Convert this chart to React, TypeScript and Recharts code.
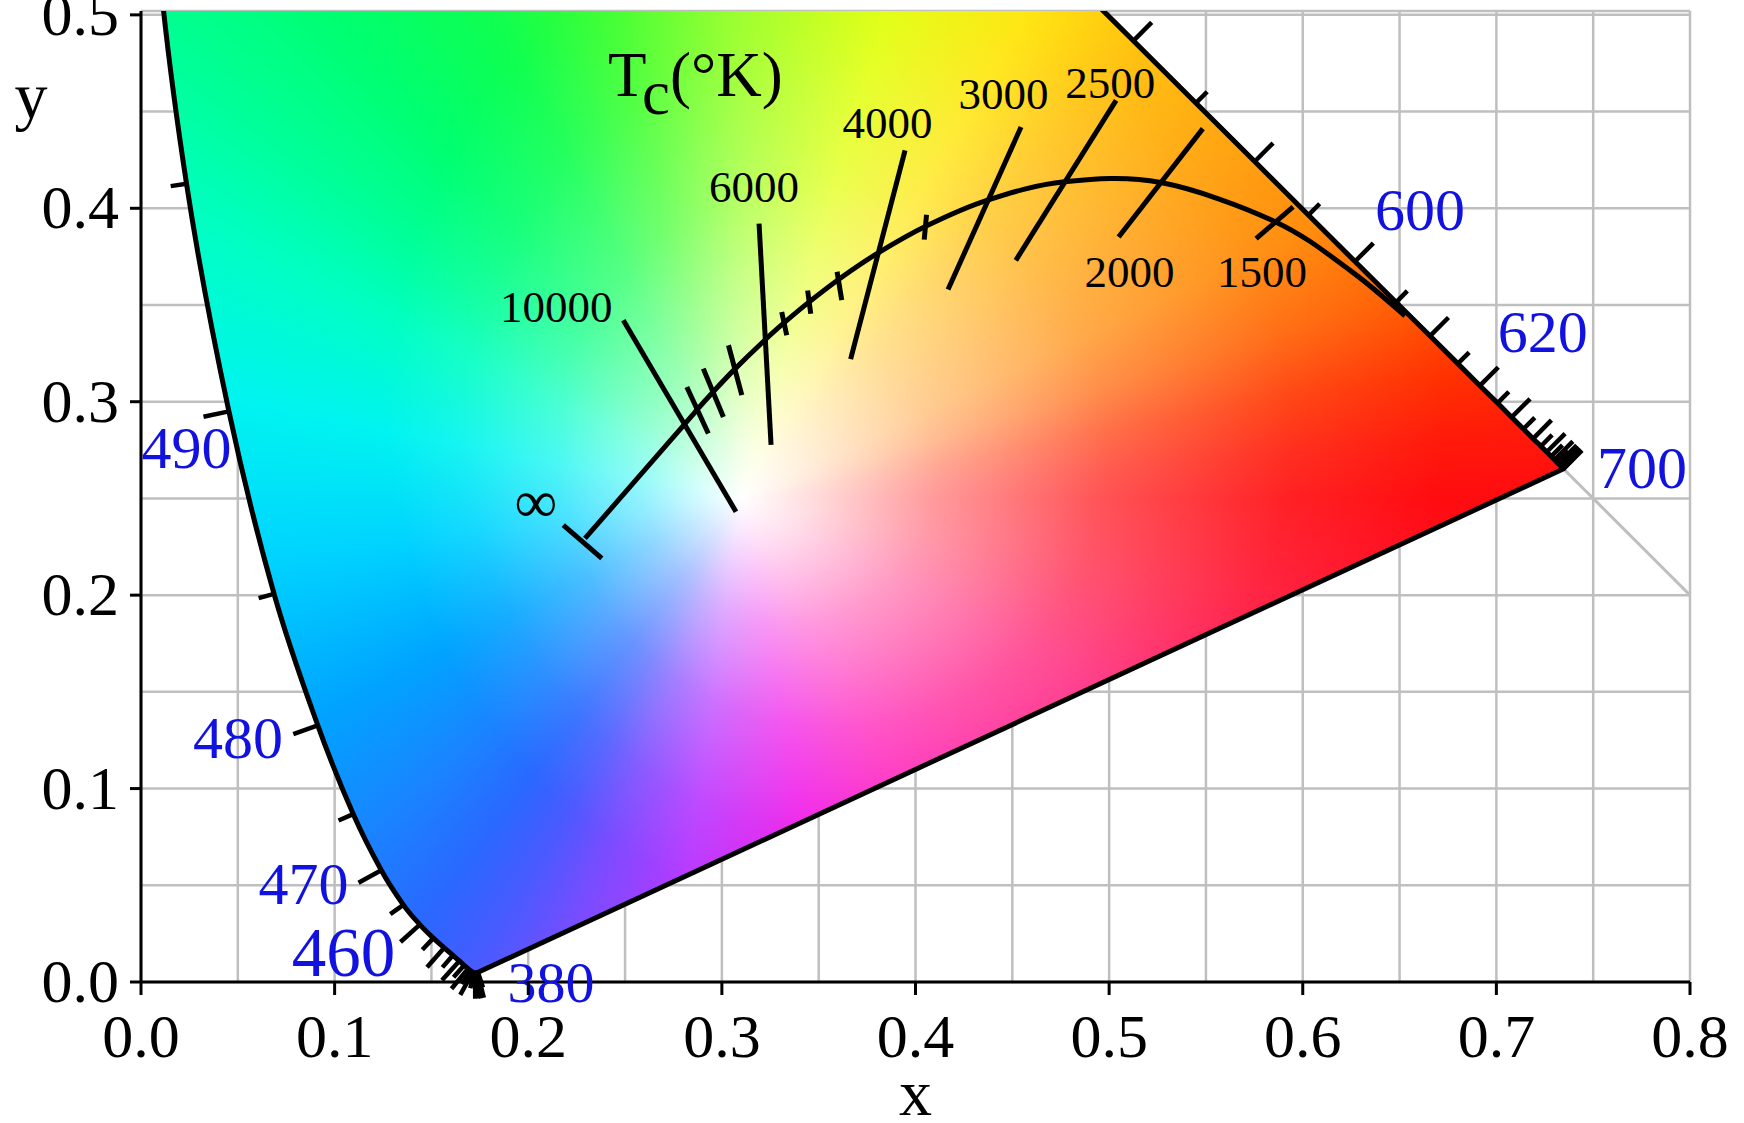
import React from 'react';
import { ScatterChart, Scatter, XAxis, YAxis, CartesianGrid } from 'recharts';

// ---------------- data ----------------
const WAVELENGTHS = [
  380, 385, 390, 395, 400, 405, 410, 415, 420, 425, 430, 435, 440, 445, 450, 455,
  460, 465, 470, 475, 480, 485, 490, 495, 500, 505, 510, 515, 520, 525, 530, 535,
  540, 545, 550, 555, 560, 565, 570, 575, 580, 585, 590, 595, 600, 605, 610, 615,
  620, 625, 630, 635, 640, 645, 650, 655, 660, 665, 670, 675, 680, 685, 690, 695, 700,
];
const LOCUS_X = [
  0.1741, 0.174, 0.1738, 0.1736, 0.1733, 0.173, 0.1726, 0.1721, 0.1714, 0.1703, 0.1689, 0.1669, 0.1644, 0.1611, 0.1566, 0.151,
  0.144, 0.1355, 0.1241, 0.1096, 0.0913, 0.0687, 0.0454, 0.0235, 0.0082, 0.0039, 0.0139, 0.0389, 0.0743, 0.1142, 0.1547, 0.1929,
  0.2296, 0.2658, 0.3016, 0.3373, 0.3731, 0.4087, 0.4441, 0.4788, 0.5125, 0.5448, 0.5752, 0.6029, 0.627, 0.6482, 0.6658, 0.6801,
  0.6915, 0.7006, 0.7079, 0.714, 0.719, 0.723, 0.726, 0.7283, 0.73, 0.7311, 0.732, 0.7327, 0.7334, 0.734, 0.7344, 0.7346, 0.7347,
];
const LOCUS_Y = [
  0.005, 0.005, 0.0049, 0.0049, 0.0048, 0.0048, 0.0048, 0.0048, 0.0051, 0.0058, 0.0069, 0.0086, 0.0109, 0.0138, 0.0177, 0.0227,
  0.0297, 0.0399, 0.0578, 0.0868, 0.1327, 0.2007, 0.295, 0.4127, 0.5384, 0.6548, 0.7502, 0.812, 0.8338, 0.8262, 0.8059, 0.7816,
  0.7543, 0.7243, 0.6923, 0.6589, 0.6245, 0.5896, 0.5547, 0.5202, 0.4866, 0.4544, 0.4242, 0.3965, 0.3725, 0.3514, 0.334, 0.3197,
  0.3083, 0.2993, 0.292, 0.2859, 0.2809, 0.277, 0.274, 0.2717, 0.27, 0.2689, 0.268, 0.2673, 0.2666, 0.266, 0.2656, 0.2654, 0.2653,
];

// Planckian locus
const PLANCK_T = ['∞', '10000', '9000', '8000', '7000', '6000', '5500', '5000', '4500', '4000', '3500', '3000', '2500', '2000', '1500', '1200', '1000'];
const PLANCK_X = [0.2293, 0.281, 0.2869, 0.2952, 0.3064, 0.3221, 0.3325, 0.3451, 0.3608, 0.3805, 0.4053, 0.4369, 0.477, 0.5267, 0.5857, 0.6251, 0.6528];
const PLANCK_Y = [0.2293, 0.2887, 0.2956, 0.3048, 0.3166, 0.3318, 0.3411, 0.3516, 0.3636, 0.3768, 0.3907, 0.4041, 0.4137, 0.4133, 0.3931, 0.3674, 0.3444];

// labelled isotemperature lines
const ISO_T = ['10000', '6000', '4000', '3000', '2500', '2000', '1500'];
const ISO_X1 = [0.2491, 0.3192, 0.3946, 0.4545, 0.5036, 0.5484, 0.595];
const ISO_Y1 = [0.3421, 0.3921, 0.43, 0.442, 0.4558, 0.4412, 0.4007];
const ISO_X2 = [0.3073, 0.3254, 0.3665, 0.4168, 0.4518, 0.5049, 0.5759];
const ISO_Y2 = [0.2431, 0.2777, 0.322, 0.358, 0.3731, 0.3852, 0.3843];

// short unlabelled isotemperature marks
const MINOR_T = ['9000', '8000', '7000', '5500', '5000', '4500', '3500'];
const MINOR_X1 = [0.2819, 0.2904, 0.3034, 0.3309, 0.3443, 0.3595, 0.4057];
const MINOR_Y1 = [0.3076, 0.3171, 0.3292, 0.3464, 0.3575, 0.3672, 0.3967];
const MINOR_X2 = [0.293, 0.3008, 0.3103, 0.3335, 0.3459, 0.3619, 0.4045];
const MINOR_Y2 = [0.2836, 0.2921, 0.3034, 0.3344, 0.3455, 0.3525, 0.3838];

// end bar at T = infinity
const INF_BAR_X = [0.2181, 0.238];
const INF_BAR_Y = [0.2362, 0.219];

// x + y = 1 reference line
const DIAG_X = [0.5, 0.8];
const DIAG_Y = [0.5, 0.2];

// white point of the colour field
const WHITE_X = 0.31;
const WHITE_Y = 0.25;

// text labels
const WL_LABELS = ['380', '460', '470', '480', '490', '600', '620', '700'];
const WL_LABEL_X = [0.2118, 0.1046, 0.0839, 0.0501, 0.0235, 0.6606, 0.724, 0.7752];
const WL_LABEL_Y = [0.0, 0.015, 0.0506, 0.1264, 0.2762, 0.399, 0.3361, 0.2659];

const T_LABELS = ['10000', '6000', '4000', '3000', '2500', '2000', '1500'];
const T_LABEL_X = [0.2144, 0.3166, 0.3855, 0.4454, 0.5006, 0.5105, 0.579];
const T_LABEL_Y = [0.3488, 0.4108, 0.4443, 0.459, 0.4648, 0.367, 0.367];

const INF_LABEL = '∞';
const INF_LABEL_X = 0.204;
const INF_LABEL_Y = 0.2482;
const TC_LABEL_X = 0.2412;
const TC_LABEL_Y = 0.458;

const X_TICKS = [0, 0.05, 0.1, 0.15, 0.2, 0.25, 0.3, 0.35, 0.4, 0.45, 0.5, 0.55, 0.6, 0.65, 0.7, 0.75, 0.8];
const Y_TICKS = [0, 0.05, 0.1, 0.15, 0.2, 0.25, 0.3, 0.35, 0.4, 0.45, 0.5];
const X_DOMAIN = [0, 0.8];
const Y_DOMAIN = [0, 0.502];

// ---------------- layout & style ----------------
const W = 1744;
const H = 1123;
const MARGIN = { top: 11, right: 54, bottom: 0, left: 0 };
const Y_AXIS_WIDTH = 141;
const X_AXIS_HEIGHT = 141;
const PLOT_LEFT = MARGIN.left + Y_AXIS_WIDTH;
const PLOT_BOTTOM = H - MARGIN.bottom - X_AXIS_HEIGHT;
const PLOT_RIGHT = W - MARGIN.right;
const FONT = "'Liberation Serif', 'Times New Roman', Times, serif";
const GRID_COLOR = '#bfbfbf';
const LINE_W = 5;
const BLUE = '#1212e0';

const CONIC_STOPS: [number, string][] = [
  [0, '#98ff20'], [16.7, '#e0ff00'], [30.7, '#ffe400'], [41, '#ffbe00'], [55.8, '#ff9a00'],
  [64.8, '#ff8600'], [73, '#ff6000'], [79.7, '#ff3400'], [85.2, '#ff1a0a'], [90, '#ff0c10'],
  [100, '#ff1030'], [118, '#ff1070'], [135, '#ff1090'], [152, '#ff10b8'], [169, '#f010e8'],
  [188, '#b838ff'], [201, '#7a4cff'], [209, '#4a5aff'], [217, '#2a68ff'], [228, '#1a84ff'],
  [243, '#00a4ff'], [263, '#00d4ff'], [281, '#00f4f0'], [298, '#00ffc0'], [308, '#00ff98'],
  [320, '#00ff70'], [333, '#10ff50'], [345, '#40ff30'], [360, '#98ff20'],
];
// white wash: circle whose focal point sits on the white point, centre shifted right/up
const WASH = { dx: 174, dy: -90, r: 530 };
const WASH_STOPS: [number, number][] = [
  [0, 1], [0.1, 0.86], [0.28, 0.58], [0.52, 0.29], [0.78, 0.09], [1, 0],
];

// ---------------- tables built from the arrays ----------------
const locusData = WAVELENGTHS.map((w, i) => ({ x: LOCUS_X[i], y: LOCUS_Y[i], w }));

const tickData = WAVELENGTHS.map((w, i) => {
  const a = Math.max(0, i - 1);
  const b = Math.min(WAVELENGTHS.length - 1, i + 1);
  const dx = LOCUS_X[b] - LOCUS_X[a];
  const dy = LOCUS_Y[b] - LOCUS_Y[a];
  const len = Math.hypot(dx, dy) || 1;
  // outward normal in screen space (y grows downward)
  return { x: LOCUS_X[i], y: LOCUS_Y[i], w, nx: -dy / len, ny: -dx / len, major: w % 10 === 0 };
}).filter((d) => d.y <= Y_DOMAIN[1]);

const planckData = PLANCK_T.map((t, i) => ({ x: PLANCK_X[i], y: PLANCK_Y[i], t }));
const isoSegments = ISO_T.map((t, i) => [
  { x: ISO_X1[i], y: ISO_Y1[i], t },
  { x: ISO_X2[i], y: ISO_Y2[i], t },
]);
const minorSegments = MINOR_T.map((t, i) => [
  { x: MINOR_X1[i], y: MINOR_Y1[i], t },
  { x: MINOR_X2[i], y: MINOR_Y2[i], t },
]);
const infBar = INF_BAR_X.map((x, i) => ({ x, y: INF_BAR_Y[i] }));
const diagData = DIAG_X.map((x, i) => ({ x, y: DIAG_Y[i] }));
const whiteData = [{ x: WHITE_X, y: WHITE_Y }];

const labelData = [
  ...WL_LABELS.map((text, i) => ({ x: WL_LABEL_X[i], y: WL_LABEL_Y[i], text, kind: 'wl' })),
  ...T_LABELS.map((text, i) => ({ x: T_LABEL_X[i], y: T_LABEL_Y[i], text, kind: 'temp' })),
  { x: INF_LABEL_X, y: INF_LABEL_Y, text: INF_LABEL, kind: 'inf' },
  { x: TC_LABEL_X, y: TC_LABEL_Y, text: 'Tc(°K)', kind: 'tc' },
];

const WL_FONT_SIZE: Record<string, number> = { '380': 58, '460': 69 };

// ---------------- renderers ----------------
const Empty = () => <g />;

function smoothPath(pts: { x: number; y: number }[], closed: boolean) {
  if (!pts || pts.length === 0) return '';
  let d = `M${pts[0].x},${pts[0].y}`;
  for (let i = 0; i < pts.length - 1; i++) {
    const p0 = pts[Math.max(0, i - 1)];
    const p1 = pts[i];
    const p2 = pts[i + 1];
    const p3 = pts[Math.min(pts.length - 1, i + 2)];
    const c1x = p1.x + (p2.x - p0.x) / 6;
    const c1y = p1.y + (p2.y - p0.y) / 6;
    const c2x = p2.x - (p3.x - p1.x) / 6;
    const c2y = p2.y - (p3.y - p1.y) / 6;
    d += ` C${c1x},${c1y} ${c2x},${c2y} ${p2.x},${p2.y}`;
  }
  return closed ? d + ' Z' : d;
}

const renderLocus = (p: any) => {
  const d = smoothPath(p.points || [], true);
  return (
    <g>
      <defs>
        <clipPath id="cie-horseshoe">
          <path d={d} />
        </clipPath>
      </defs>
      <path d={d} fill="none" stroke="#000" strokeWidth={LINE_W} strokeLinejoin="round" />
    </g>
  );
};

const renderPlanck = (p: any) => (
  <path d={smoothPath(p.points || [], false)} fill="none" stroke="#000" strokeWidth={LINE_W} strokeLinejoin="round" />
);

const renderFill = (p: any) => {
  const { cx, cy } = p;
  const conic = CONIC_STOPS.map(([a, c]) => `${c} ${a}deg`).join(', ');
  return (
    <g clipPath="url(#cie-horseshoe)">
      <defs>
        <radialGradient
          id="cie-wash"
          gradientUnits="userSpaceOnUse"
          cx={cx + WASH.dx}
          cy={cy + WASH.dy}
          r={WASH.r}
          fx={cx}
          fy={cy}
        >
          {WASH_STOPS.map(([o, a], i) => (
            <stop key={i} offset={o} stopColor="#ffffff" stopOpacity={a} />
          ))}
        </radialGradient>
      </defs>
      <foreignObject x={0} y={0} width={W} height={H}>
        <div style={{ width: W, height: H, background: `conic-gradient(from 0deg at ${cx}px ${cy}px, ${conic})` }} />
      </foreignObject>
      <rect x={0} y={0} width={W} height={H} fill="url(#cie-wash)" />
    </g>
  );
};

const renderTick = (p: any) => {
  const { cx, cy, payload } = p;
  const L = payload.major ? 26 : 16;
  return (
    <line x1={cx} y1={cy} x2={cx + payload.nx * L} y2={cy + payload.ny * L} stroke="#000" strokeWidth={4.5} />
  );
};

const renderLabel = (p: any) => {
  const { cx, cy, payload } = p;
  if (payload.kind === 'tc') {
    return (
      <text x={cx} y={cy} fontFamily={FONT} fontSize={63} fill="#000">
        T<tspan dy={18}>c</tspan>
        <tspan dy={-18}>(°K)</tspan>
      </text>
    );
  }
  let fontSize = 45;
  let fill = '#000';
  if (payload.kind === 'wl') {
    fontSize = WL_FONT_SIZE[payload.text] ?? 60;
    fill = BLUE;
  } else if (payload.kind === 'inf') {
    fontSize = 60;
  }
  return (
    <text x={cx} y={cy} textAnchor="middle" dominantBaseline="central" fontFamily={FONT} fontSize={fontSize} fill={fill}>
      {payload.text}
    </text>
  );
};

const isMajor = (v: number) => Math.round(v * 100) % 10 === 0;

const renderXTick = (p: any) => {
  const { x, payload } = p;
  const v = payload.value;
  if (!isMajor(v)) return <g />;
  return (
    <g>
      <line x1={x} x2={x} y1={PLOT_BOTTOM} y2={PLOT_BOTTOM + 13} stroke="#000" strokeWidth={3} />
      <text x={x} y={PLOT_BOTTOM + 75} textAnchor="middle" fontFamily={FONT} fontSize={62} fill="#000">
        {v.toFixed(1)}
      </text>
    </g>
  );
};

const renderYTick = (p: any) => {
  const { y, payload } = p;
  const v = payload.value;
  if (!isMajor(v)) return <g />;
  return (
    <g>
      <line x1={PLOT_LEFT - 11} x2={PLOT_LEFT} y1={y} y2={y} stroke="#000" strokeWidth={3} />
      <text x={PLOT_LEFT - 22} y={y + 20} textAnchor="end" fontFamily={FONT} fontSize={62} fill="#000">
        {v.toFixed(1)}
      </text>
    </g>
  );
};

const XTitle = () => (
  <text x={(PLOT_LEFT + PLOT_RIGHT) / 2} y={1115} textAnchor="middle" fontFamily={FONT} fontSize={66} fill="#000">
    x
  </text>
);
const YTitle = () => (
  <text x={31} y={118} textAnchor="middle" fontFamily={FONT} fontSize={66} fill="#000">
    y
  </text>
);

const blackLine = { stroke: '#000', strokeWidth: LINE_W };

export default function App() {
  return (
    <div style={{ position: 'absolute', left: 0, top: 0, width: W, height: H, background: '#fff' }}>
      <ScatterChart width={W} height={H} margin={MARGIN}>
        <CartesianGrid stroke={GRID_COLOR} strokeWidth={2.5} />
        <XAxis
          xAxisId={0}
          type="number"
          dataKey="x"
          domain={X_DOMAIN}
          ticks={X_TICKS}
          interval={0}
          allowDataOverflow
          height={X_AXIS_HEIGHT}
          axisLine={{ stroke: '#000', strokeWidth: 3 }}
          tickLine={false}
          tick={renderXTick}
          label={<XTitle />}
        />
        <YAxis
          yAxisId={0}
          type="number"
          dataKey="y"
          domain={Y_DOMAIN}
          ticks={Y_TICKS}
          interval={0}
          allowDataOverflow
          width={Y_AXIS_WIDTH}
          axisLine={{ stroke: '#000', strokeWidth: 3 }}
          tickLine={false}
          tick={renderYTick}
          label={<YTitle />}
        />
        <XAxis xAxisId="h" type="number" dataKey="x" domain={X_DOMAIN} ticks={X_TICKS} hide />
        <YAxis yAxisId="h" type="number" dataKey="y" domain={Y_DOMAIN} ticks={Y_TICKS} hide />

        <Scatter data={diagData} line={{ stroke: GRID_COLOR, strokeWidth: 3 }} shape={Empty} isAnimationActive={false} />
        <Scatter data={whiteData} shape={renderFill} isAnimationActive={false} />
        <Scatter data={locusData} line={renderLocus} shape={Empty} isAnimationActive={false} />
        <Scatter data={tickData} xAxisId="h" yAxisId="h" shape={renderTick} isAnimationActive={false} />
        <Scatter data={planckData} line={renderPlanck} shape={Empty} isAnimationActive={false} />
        {isoSegments.map((seg, i) => (
          <Scatter key={`iso-${i}`} data={seg} line={blackLine} shape={Empty} isAnimationActive={false} />
        ))}
        {minorSegments.map((seg, i) => (
          <Scatter key={`minor-${i}`} data={seg} line={blackLine} shape={Empty} isAnimationActive={false} />
        ))}
        <Scatter data={infBar} line={blackLine} shape={Empty} isAnimationActive={false} />
        <Scatter data={labelData} xAxisId="h" yAxisId="h" shape={renderLabel} isAnimationActive={false} />
      </ScatterChart>
    </div>
  );
}
